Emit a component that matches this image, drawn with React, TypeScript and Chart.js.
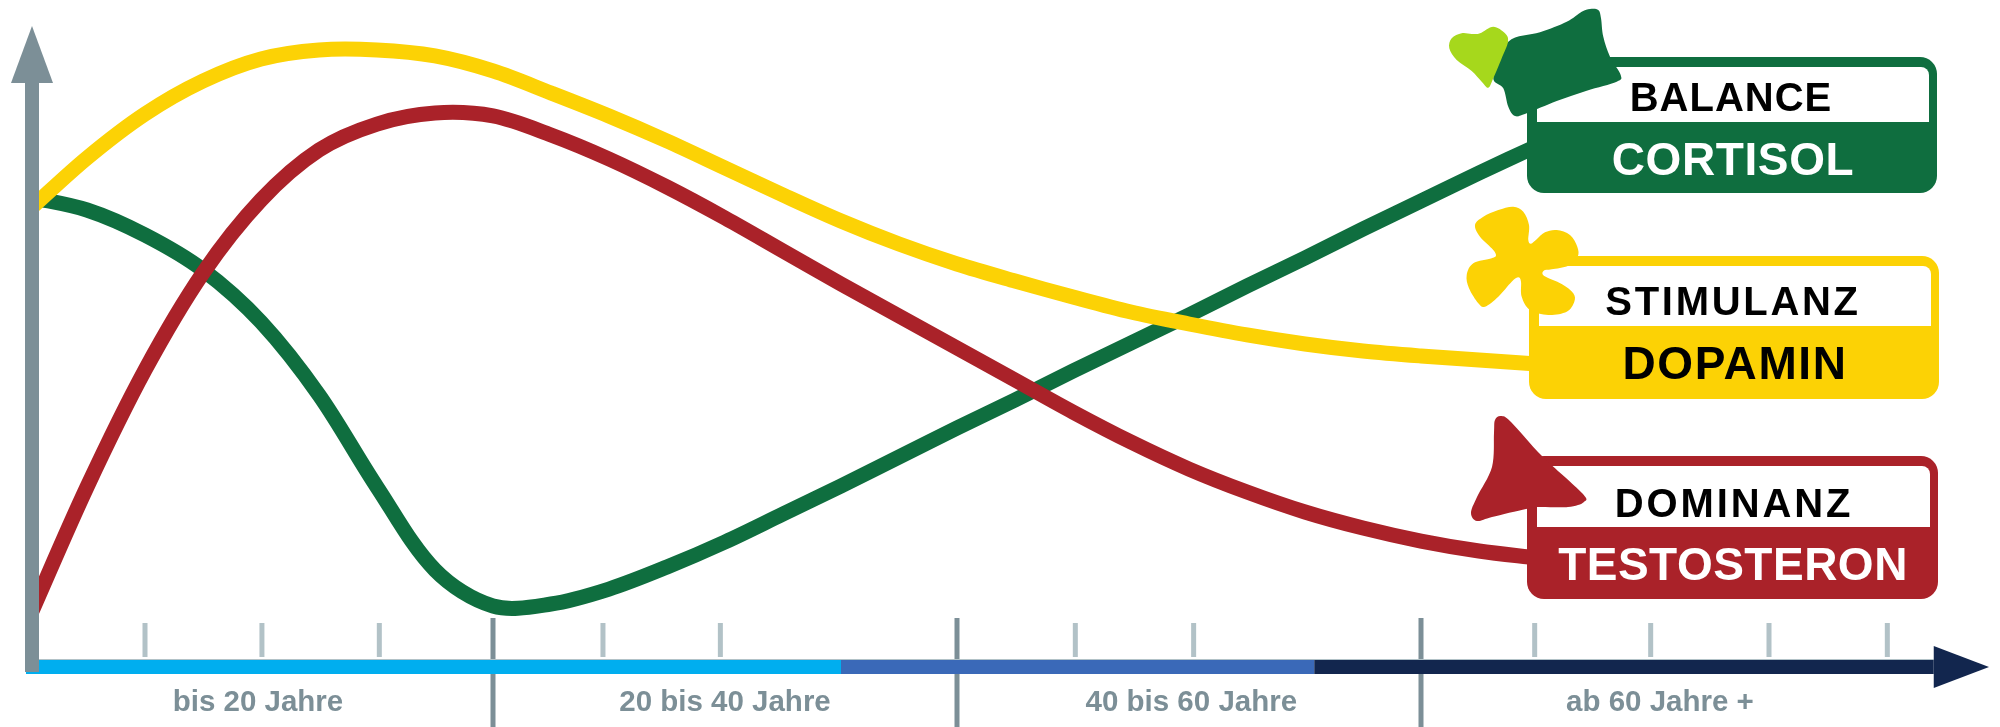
import React, { useEffect, useRef } from "react";
import { Chart, registerables } from "chart.js";

Chart.register(...registerables);

const WIDTH = 2000;
const HEIGHT = 727;

const ages = [0, 2.5, 5, 7.5, 10, 12.5, 15, 17.5, 20, 22.5, 25, 27.5, 30, 32.5, 35, 37.5, 40, 42.5, 45, 47.5, 50, 52.5, 55, 57.5, 60, 62.5, 65];
const cortisol = [77.17, 75, 70.83, 65, 56.33, 44.17, 28.83, 15, 9, 9.33, 11.83, 15.5, 19.67, 24.33, 29, 33.83, 38.67, 43.33, 48.17, 52.83, 57.5, 62.33, 67, 71.83, 76.5, 81.17, 85.67];
const dopamin = [75, 83.67, 91, 96.5, 100.17, 101.67, 101.67, 100.67, 98.17, 94.5, 90.67, 86.5, 82, 77.5, 73.17, 69.33, 66, 63.17, 60.5, 58, 56, 54.17, 52.67, 51.5, 50.67, 50, 49.33];
const testosteron = [7, 28.83, 48.33, 64.5, 76.67, 85, 89.33, 91.17, 90.67, 87.5, 83.5, 78.83, 73.67, 68.17, 62.67, 57.33, 52, 46.67, 41.33, 36.33, 31.83, 28, 24.67, 22, 19.83, 18.17, 17];

const majorTicks = [20, 40, 60];
const minorTicks = [5, 10.04, 15.1, 24.74, 29.8, 45.1, 50.2, 64.9, 69.9, 75, 80.1];
const periodLabels = ["bis 20 Jahre", "20 bis 40 Jahre", "40 bis 60 Jahre", "ab 60 Jahre +"];
const periodCenters = [9.87, 30, 50.1, 70.3];
const bandStops = [-0.13, 35, 55.4, 82.1];
const bandColors = ["#00aeef", "#3a69b8", "#12264e"];

const GREEN = "#0f6e3f";
const YELLOW = "#fcd205";
const RED = "#aa2229";
const LIME = "#a6d81c";
const GREY = "#7c8f97";
const LIGHT = "#b2c2c7";
const NAVY = "#12264e";
const FONT = '"Liberation Sans", Arial, sans-serif';

const panels = [
  { top: "BALANCE", bottom: "CORTISOL", color: GREEN, ink: "#ffffff", box: [1527, 57, 1937, 193], split: 122, topBase: 111, botBase: 174.5, topX: 1731, botX: 1733, spacing: 1, botSpacing: 0.6 },
  { top: "STIMULANZ", bottom: "DOPAMIN", color: YELLOW, ink: "#000000", box: [1529, 256, 1939, 399], split: 326, topBase: 314.5, botBase: 378.5, topX: 1733, botX: 1735, spacing: 2.7, botSpacing: 1.6 },
  { top: "DOMINANZ", bottom: "TESTOSTERON", color: RED, ink: "#ffffff", box: [1527, 456, 1938, 599], split: 527, topBase: 517, botBase: 579.5, topX: 1734, botX: 1733, spacing: 2.9, botSpacing: 0.5 },
];

const icons: { color: string; pts: number[][] }[] = [
  { color: GREEN, pts: [[1508.3, 41.7], [1540, 32.3], [1566.7, 21.7], [1581.7, 11.7], [1590, 9], [1598.3, 10], [1601, 18.3], [1603.3, 36.7], [1610, 56.7], [1620.7, 75], [1616.7, 81.7], [1586.7, 90.7], [1556.7, 101], [1526.7, 113.3], [1515, 116], [1508.3, 106.7], [1503.3, 88.3], [1493.3, 76.7]] },
  { color: LIME, pts: [[1480, 33.3], [1493.3, 26.7], [1505, 33.3], [1508, 41.7], [1501.7, 58.3], [1493.3, 78.3], [1488.3, 87.7], [1481.7, 81.7], [1471.7, 71], [1456.7, 60], [1449.3, 48.3], [1451.7, 38.3], [1461.7, 33.3], [1471.7, 34]] },
  { color: YELLOW, pts: [[1475, 225], [1483.3, 216.7], [1498.3, 210], [1513.3, 206.7], [1523.3, 211.7], [1529, 225], [1528.3, 240], [1531, 243.7], [1536.7, 239.3], [1545, 232.3], [1556.7, 230], [1570, 235], [1577.3, 246.7], [1577.7, 256.7], [1568.3, 265.7], [1551.7, 269.3], [1543.7, 270.7], [1544.3, 276], [1561.7, 284], [1573.3, 293.3], [1574.3, 301.7], [1566.7, 311.7], [1548.3, 315], [1530, 310], [1521.7, 296.7], [1521, 281.7], [1518.3, 277.3], [1511.7, 281.7], [1498.3, 296.7], [1485, 306.7], [1478.3, 303.3], [1469, 288.3], [1466.7, 275], [1473.3, 263.3], [1491.7, 258.3], [1496, 255], [1491.7, 248.3], [1480, 236.7]] },
  { color: RED, pts: [[1501, 416], [1511, 422], [1542, 456], [1582, 493], [1584, 502], [1568, 507], [1538, 507], [1526, 509], [1492, 517], [1477, 521], [1471, 513], [1477, 497], [1492, 467], [1494, 433], [1495, 420]] },
];

function smoothClosed(ctx: CanvasRenderingContext2D, pts: number[][]) {
  const n = pts.length;
  ctx.beginPath();
  ctx.moveTo(pts[0][0], pts[0][1]);
  for (let i = 0; i < n; i++) {
    const p0 = pts[(i - 1 + n) % n];
    const p1 = pts[i];
    const p2 = pts[(i + 1) % n];
    const p3 = pts[(i + 2) % n];
    ctx.bezierCurveTo(
      p1[0] + (p2[0] - p0[0]) / 6,
      p1[1] + (p2[1] - p0[1]) / 6,
      p2[0] - (p3[0] - p1[0]) / 6,
      p2[1] - (p3[1] - p1[1]) / 6,
      p2[0],
      p2[1]
    );
  }
  ctx.closePath();
  ctx.fill();
}

const decorations = {
  id: "decorations",
  afterDatasetsDraw(chart: any) {
    const ctx: CanvasRenderingContext2D = chart.ctx;
    const x = chart.scales.x;
    ctx.save();

    // age ticks
    ctx.fillStyle = LIGHT;
    minorTicks.forEach((a) => ctx.fillRect(x.getPixelForValue(a) - 2.5, 623, 5, 34));
    ctx.fillStyle = GREY;
    majorTicks.forEach((a) => ctx.fillRect(x.getPixelForValue(a) - 2.5, 618, 5, 109));

    // segmented time axis
    const arrowBase = x.getPixelForValue(bandStops[3]);
    ctx.fillStyle = LIGHT;
    ctx.fillRect(39, 659, arrowBase - 39, 1);
    bandColors.forEach((c, i) => {
      const a = x.getPixelForValue(bandStops[i]);
      const b = x.getPixelForValue(bandStops[i + 1]);
      ctx.fillStyle = c;
      ctx.fillRect(a, 660, b - a, 14);
    });
    ctx.fillStyle = NAVY;
    ctx.beginPath();
    ctx.moveTo(arrowBase, 646);
    ctx.lineTo(1989, 667);
    ctx.lineTo(arrowBase, 688);
    ctx.closePath();
    ctx.fill();

    // vertical axis
    ctx.fillStyle = GREY;
    ctx.fillRect(25, 83, 14, 589);
    ctx.beginPath();
    ctx.moveTo(32, 26);
    ctx.lineTo(53, 83);
    ctx.lineTo(11, 83);
    ctx.closePath();
    ctx.fill();

    // period labels
    ctx.font = `bold 29.5px ${FONT}`;
    ctx.textAlign = "center";
    ctx.textBaseline = "alphabetic";
    ctx.fillStyle = GREY;
    periodLabels.forEach((t, i) => ctx.fillText(t, x.getPixelForValue(periodCenters[i]), 711));

    // panels
    panels.forEach((p) => {
      const [l, t, r, b] = p.box;
      ctx.fillStyle = p.color;
      ctx.beginPath();
      ctx.roundRect(l, t, r - l, b - t, 17);
      ctx.fill();
      ctx.fillStyle = "#ffffff";
      ctx.beginPath();
      ctx.roundRect(l + 10, t + 10, r - l - 18, p.split - t - 10, [6, 8, 0, 0]);
      ctx.fill();
      ctx.fillStyle = "#000000";
      ctx.font = `bold 40px ${FONT}`;
      (ctx as any).letterSpacing = `${p.spacing}px`;
      ctx.fillText(p.top, p.topX, p.topBase);
      (ctx as any).letterSpacing = `${p.botSpacing}px`;
      ctx.fillStyle = p.ink;
      ctx.font = `bold 46px ${FONT}`;
      ctx.fillText(p.bottom, p.botX, p.botBase);
      (ctx as any).letterSpacing = "0px";
    });

    // icons
    icons.forEach((ic) => {
      ctx.fillStyle = ic.color;
      smoothClosed(ctx, ic.pts);
    });
    ctx.restore();
  },
};

function series(values: number[]) {
  return ages.map((a, i) => ({ x: a, y: values[i] }));
}

export default function App() {
  const ref = useRef<HTMLCanvasElement>(null);
  useEffect(() => {
    const common = {
      borderWidth: 15,
      pointRadius: 0,
      fill: false,
      tension: 0.33,
      borderCapStyle: "butt" as const,
      clip: { left: -30, top: 0, right: 0, bottom: 0 },
    };
    const chart = new Chart(ref.current as HTMLCanvasElement, {
      type: "line",
      data: {
        datasets: [
          { label: "Cortisol", data: series(cortisol), borderColor: GREEN, order: 3, ...common },
          { label: "Testosteron", data: series(testosteron), borderColor: RED, order: 2, ...common },
          { label: "Dopamin", data: series(dopamin), borderColor: YELLOW, order: 1, ...common },
        ],
      },
      options: {
        animation: false,
        responsive: false,
        devicePixelRatio: 1,
        layout: { padding: 0 },
        plugins: { legend: { display: false }, tooltip: { enabled: false }, title: { display: false } },
        scales: {
          x: { type: "linear", min: -29 / 23.2, max: (WIDTH - 29) / 23.2, display: false },
          y: { type: "linear", min: -(HEIGHT - 660) / 6, max: 110, display: false },
        },
      },
      plugins: [decorations],
    });
    return () => chart.destroy();
  }, []);
  return (
    <div style={{ position: "absolute", left: 0, top: 0, width: WIDTH, height: HEIGHT, background: "#fff" }}>
      <canvas ref={ref} width={WIDTH} height={HEIGHT} style={{ display: "block" }} />
    </div>
  );
}
